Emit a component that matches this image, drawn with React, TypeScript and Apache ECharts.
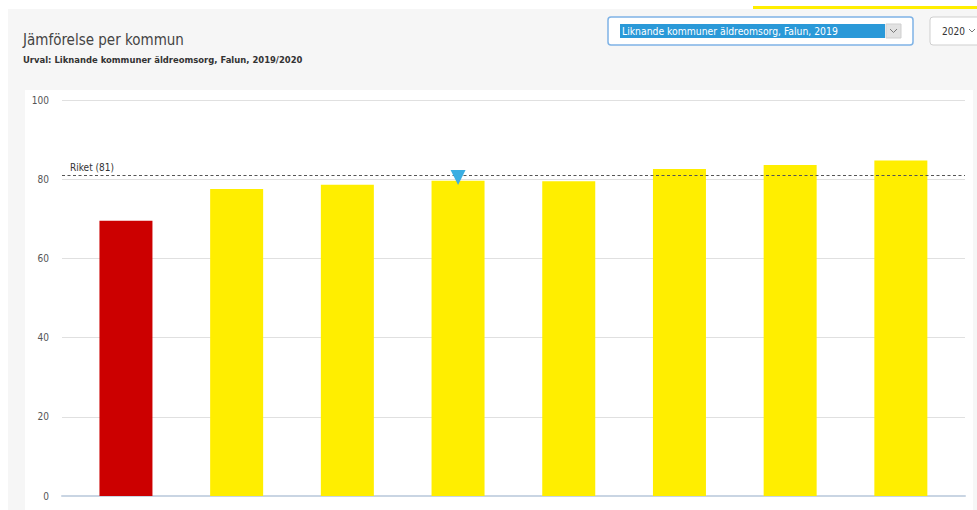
import React, { useEffect, useRef } from "react";
import * as echarts from "echarts";

const categories = ["Falun", "Kommun B", "Kommun C", "Kommun D", "Kommun E", "Kommun F", "Kommun G", "Kommun H"];
const values = [69.5, 77.5, 78.6, 79.6, 79.5, 82.6, 83.6, 84.7];
const barColors = ["#cc0000", "#ffee00", "#ffee00", "#ffee00", "#ffee00", "#ffee00", "#ffee00", "#ffee00"];
const riketValue = 81;
const markerIndex = 3;
const markerValue = 80.4;
const yTicks = { min: 0, max: 100, interval: 20 };

const FONT = "'DejaVu Sans Condensed', 'DejaVu Sans', sans-serif";

export default function App() {
  const ref = useRef<HTMLDivElement>(null);
  useEffect(() => {
    if (!ref.current) return;
    const chart = echarts.init(ref.current, undefined, { renderer: "svg" });
    const yBase = {
      type: "value" as const,
      min: yTicks.min,
      max: yTicks.max,
      interval: yTicks.interval,
    };
    chart.setOption({
      animation: false,
      textStyle: { fontFamily: FONT },
      grid: [
        { left: 62, right: 12, top: 100, bottom: 14 },
        { left: 70.6, width: 885.6, top: 100, bottom: 14 },
      ],
      xAxis: [
        {
          type: "category",
          gridIndex: 0,
          data: categories,
          axisLine: { show: true, lineStyle: { color: "#c9d5e3", width: 2 } },
          axisTick: { show: false },
          axisLabel: { show: false },
        },
        {
          type: "category",
          gridIndex: 1,
          data: categories,
          axisLine: { show: false },
          axisTick: { show: false },
          axisLabel: { show: false },
        },
      ],
      yAxis: [
        {
          ...yBase,
          gridIndex: 0,
          axisLine: { show: false },
          axisTick: { show: false },
          axisLabel: { color: "#555", fontSize: 10, margin: 13, fontFamily: FONT },
          splitLine: { lineStyle: { color: "#e0e0e0", width: 1 } },
        },
        {
          ...yBase,
          gridIndex: 1,
          axisLine: { show: false },
          axisTick: { show: false },
          axisLabel: { show: false },
          splitLine: { show: false },
        },
      ],
      series: [
        {
          type: "line",
          xAxisIndex: 0,
          yAxisIndex: 0,
          data: [],
          markLine: {
            silent: true,
            symbol: ["none", "none"],
            lineStyle: { color: "#555", type: [3, 2.5], width: 1.2 },
            label: {
              show: true,
              position: "insideStartTop",
              formatter: "Riket (" + riketValue + ")",
              color: "#333",
              fontSize: 10,
              fontFamily: FONT,
              distance: [8, 3],
            },
            data: [{ yAxis: riketValue }],
          },
        },
        {
          type: "bar",
          xAxisIndex: 1,
          yAxisIndex: 1,
          barWidth: 53,
          data: values.map((v, i) => ({ value: v, itemStyle: { color: barColors[i] } })),
          z: 1,
          markPoint: {
            symbol: "triangle",
            symbolRotate: 180,
            symbolSize: [15, 15],
            itemStyle: { color: "#3aaee2" },
            label: { show: false },
            data: [{ coord: [categories[markerIndex], markerValue] }],
          },
        },
      ],
      graphic: [
        {
          type: "text",
          left: 23,
          top: 32,
          style: { text: "Jämförelse per kommun", fill: "#444", font: "15px " + FONT },
        },
        {
          type: "text",
          left: 23,
          top: 55,
          style: {
            text: "Urval: Liknande kommuner äldreomsorg, Falun, 2019/2020",
            fill: "#333",
            font: "bold 9.4px " + FONT,
          },
        },
        {
          type: "rect",
          shape: { x: 608, y: 17, width: 305, height: 28, r: 3 },
          style: { fill: "#fff", stroke: "#7fb3e6", lineWidth: 1.5 },
        },
        {
          type: "rect",
          shape: { x: 620, y: 24, width: 265, height: 14 },
          style: { fill: "#2a99d8" },
        },
        {
          type: "text",
          x: 622,
          y: 31,
          style: {
            text: "Liknande kommuner äldreomsorg, Falun, 2019",
            fill: "#fff",
            font: "10.3px " + FONT,
            verticalAlign: "middle",
          },
        },
        {
          type: "rect",
          shape: { x: 886, y: 24, width: 15, height: 14 },
          style: { fill: "#e2e2e2", stroke: "#cfcfcf", lineWidth: 1 },
        },
        {
          type: "polyline",
          shape: { points: [[890, 29], [893.5, 32.5], [897, 29]] },
          style: { stroke: "#777", lineWidth: 1, fill: null },
        },
        {
          type: "rect",
          shape: { x: 930, y: 17, width: 60, height: 28, r: 3 },
          style: { fill: "#fff", stroke: "#cfcfcf", lineWidth: 1 },
        },
        {
          type: "text",
          x: 942,
          y: 31,
          style: { text: "2020", fill: "#333", font: "10px " + FONT, verticalAlign: "middle" },
        },
        {
          type: "polyline",
          shape: { points: [[969, 29], [972, 32], [975, 29]] },
          style: { stroke: "#777", lineWidth: 1, fill: null },
        },
        {
          type: "rect",
          shape: { x: 753, y: 6, width: 224, height: 3 },
          style: { fill: "#ffee00" },
        },
      ],
    });
    return () => chart.dispose();
  }, []);

  return (
    <div style={{ position: "absolute", left: 0, top: 0, width: 977, height: 510, background: "#fff", overflow: "hidden" }}>
      <div style={{ position: "absolute", left: 8, top: 9, width: 969, height: 501, background: "#f6f6f6" }} />
      <div style={{ position: "absolute", left: 25, top: 90, width: 948, height: 420, background: "#fff" }} />
      <div ref={ref} style={{ position: "absolute", left: 0, top: 0, width: 977, height: 510 }} />
    </div>
  );
}
